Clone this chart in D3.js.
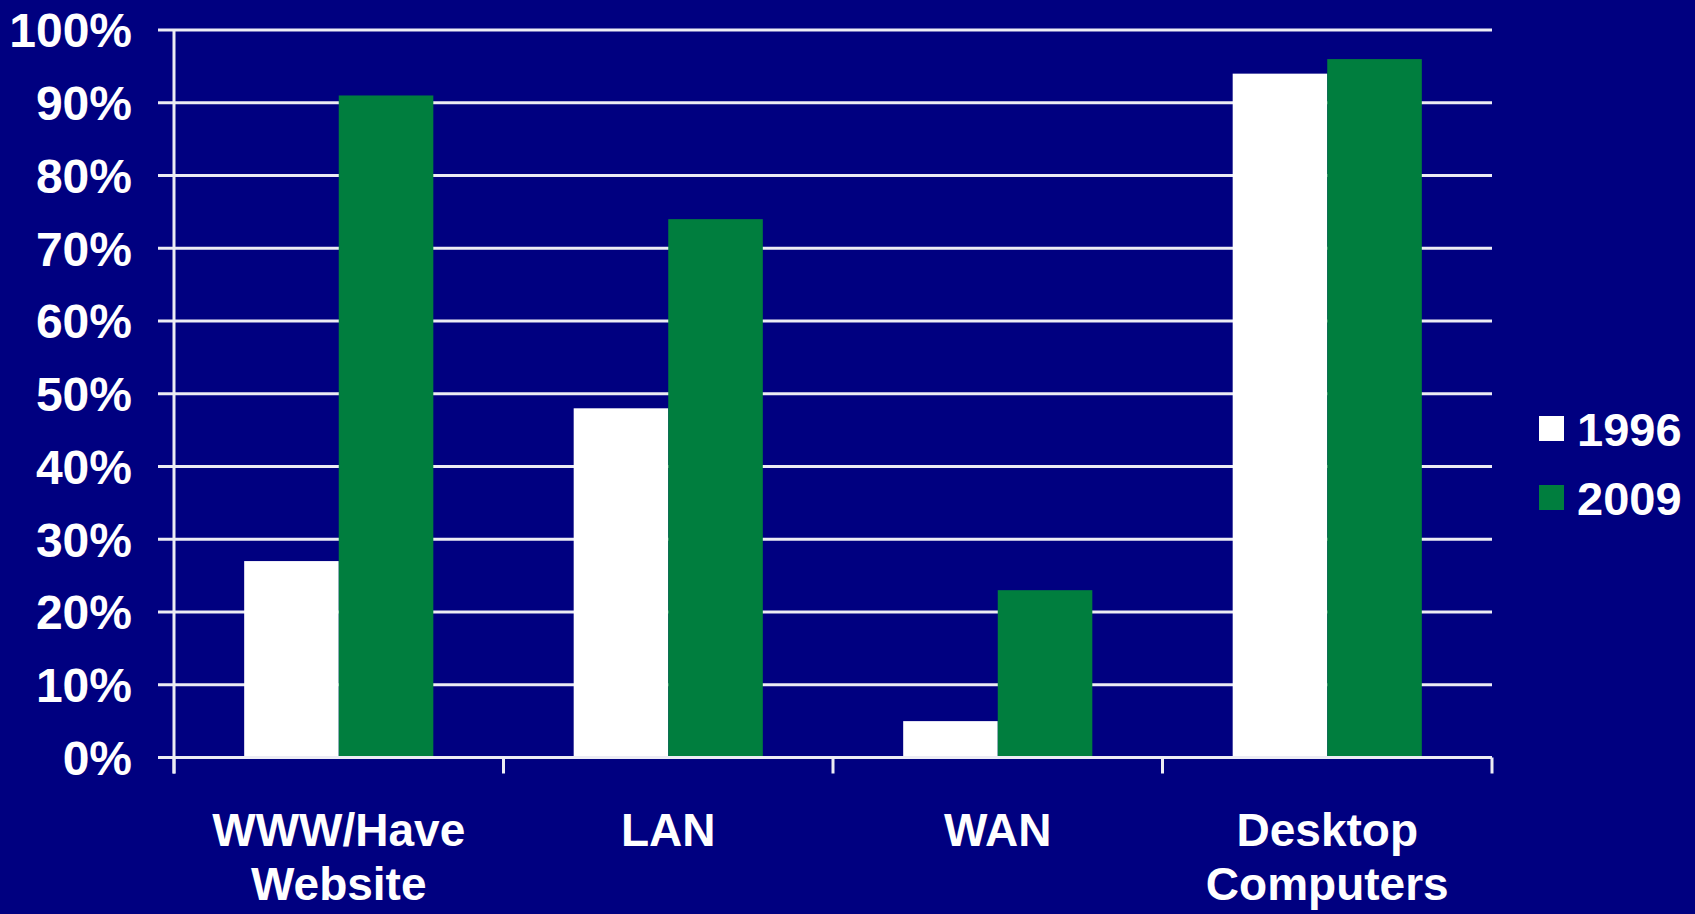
<!DOCTYPE html>
<html>
<head>
<meta charset="utf-8">
<script src="https://cdn.jsdelivr.net/npm/d3@7"></script>
<style>
  html, body { margin: 0; padding: 0; background: #000080; }
  svg { display: block; }
  text { font-family: "Liberation Sans", Arial, sans-serif; font-weight: bold; fill: #ffffff; }
</style>
</head>
<body>
<svg id="chart" width="1695" height="914"></svg>
<script>
// Technology adoption, 1996 vs 2009
const categories = [["WWW/Have", "Website"], ["LAN"], ["WAN"], ["Desktop", "Computers"]];
const series = ["1996", "2009"];
const values1996 = [27, 48, 5, 94];
const values2009 = [91, 74, 23, 96];
const yTicks = [0, 10, 20, 30, 40, 50, 60, 70, 80, 90, 100];
const colors = { "1996": "#ffffff", "2009": "#007e3e" };

const W = 1695, H = 914;
const plot = { left: 174, right: 1492, top: 30, bottom: 757.5 };

const svg = d3.select("#chart");
svg.append("rect").attr("width", W).attr("height", H).attr("fill", "#000080");

const catKeys = categories.map(c => c.join(" "));
const x0 = d3.scaleBand().domain(catKeys).range([plot.left, plot.right]).padding(0);
const bw = x0.bandwidth();
const x1 = d3.scaleBand().domain(series).range([bw * 0.213, bw * 0.787]).padding(0);
const y = d3.scaleLinear().domain([0, 100]).range([plot.bottom, plot.top]);

const lineColor = "#ececf4";

// horizontal gridlines with outward tick marks
const gy = svg.append("g");
gy.selectAll("line").data(yTicks).join("line")
  .attr("x1", plot.left - 16).attr("x2", plot.right)
  .attr("y1", d => y(d)).attr("y2", d => y(d))
  .attr("stroke", lineColor).attr("stroke-width", 3);

// y tick labels
svg.append("g").selectAll("text").data(yTicks).join("text")
  .attr("x", 132).attr("y", d => y(d)).attr("dy", "0.36em")
  .attr("text-anchor", "end").attr("font-size", 48)
  .text(d => d + "%");

// bars
const rows = catKeys.map((k, i) => ({ key: k, vals: [values1996[i], values2009[i]] }));
const groups = svg.append("g").selectAll("g").data(rows).join("g")
  .attr("transform", d => `translate(${x0(d.key)},0)`);
groups.selectAll("rect").data(d => series.map((s, j) => ({ s, v: d.vals[j] }))).join("rect")
  .attr("x", d => x1(d.s)).attr("width", x1.bandwidth())
  .attr("y", d => y(d.v)).attr("height", d => y(0) - y(d.v))
  .attr("fill", d => colors[d.s]);

// y axis line
svg.append("line")
  .attr("x1", plot.left).attr("x2", plot.left)
  .attr("y1", plot.top).attr("y2", plot.bottom + 16)
  .attr("stroke", lineColor).attr("stroke-width", 3);

// x axis baseline and category boundary ticks
svg.append("line")
  .attr("x1", plot.left - 16).attr("x2", plot.right)
  .attr("y1", y(0)).attr("y2", y(0))
  .attr("stroke", lineColor).attr("stroke-width", 3);
const bounds = catKeys.map(k => x0(k)).concat([plot.right]);
svg.append("g").selectAll("line").data(bounds).join("line")
  .attr("x1", d => d).attr("x2", d => d)
  .attr("y1", y(0)).attr("y2", y(0) + 16)
  .attr("stroke", lineColor).attr("stroke-width", 3);

// category labels
const labels = svg.append("g").selectAll("text").data(categories).join("text")
  .attr("text-anchor", "middle").attr("font-size", 46)
  .attr("x", (d, i) => x0(catKeys[i]) + bw / 2)
  .attr("y", 846);
labels.selectAll("tspan").data(d => d).join("tspan")
  .attr("x", function () { return d3.select(this.parentNode).attr("x"); })
  .attr("dy", (d, i) => i === 0 ? 0 : 54)
  .text(d => d);

// legend
const legend = svg.append("g").selectAll("g").data(series).join("g")
  .attr("transform", (d, i) => `translate(1539, ${416 + i * 69})`);
legend.append("rect").attr("width", 25).attr("height", 25).attr("fill", d => colors[d]);
legend.append("text").attr("x", 38).attr("y", 30).attr("font-size", 47).text(d => d);
</script>
</body>
</html>
